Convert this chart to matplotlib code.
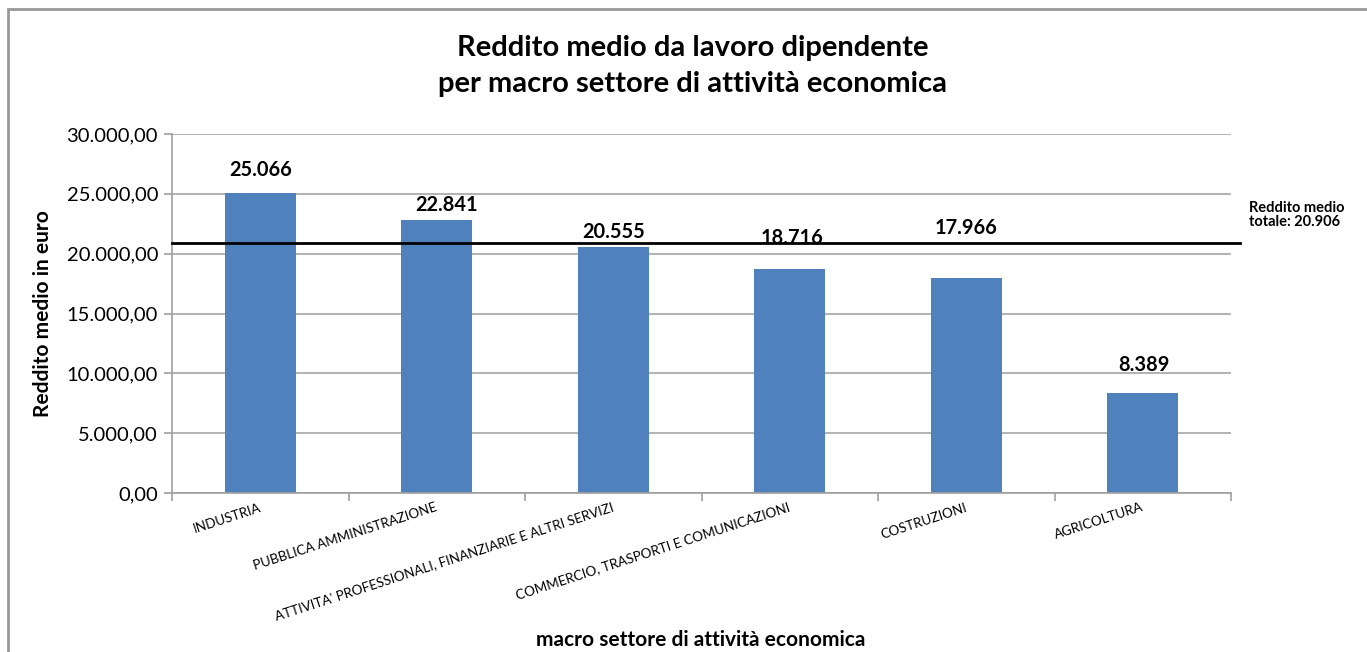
import matplotlib
matplotlib.use("Agg")
import matplotlib.pyplot as plt
from matplotlib.patches import Rectangle
from matplotlib.ticker import FuncFormatter

plt.rcParams['font.family'] = ['Lato', 'DejaVu Sans']

# Average income from employment by macro sector
sectors = [
    "INDUSTRIA",
    "PUBBLICA AMMINISTRAZIONE",
    "ATTIVITA' PROFESSIONALI, FINANZIARIE E ALTRI SERVIZI",
    "COMMERCIO, TRASPORTI E COMUNICAZIONI",
    "COSTRUZIONI",
    "AGRICOLTURA",
]
income = [25066, 22841, 20555, 18716, 17966, 8389]
overall_mean = 20906
y_ticks = [0, 5000, 10000, 15000, 20000, 25000, 30000]

# hand-placed label offsets (pixels) relative to each bar top
label_dx = [0, 10, 0, 2, 0, 1]
label_dy = [23, 15, 15, 31, 50, 28]

W, H = 1367, 652
fig = plt.figure(figsize=(W / 100, H / 100), dpi=100)
fig.patch.set_facecolor('white')

# outer chart frame
fig.add_artist(Rectangle((8 / W, -0.1), 1.2, (H - 9) / H + 0.1, transform=fig.transFigure,
                         fill=False, edgecolor='#999999', linewidth=2))

left, right, top, bottom = 172, 1231, 134, 493
ax = fig.add_axes([left / W, 1 - bottom / H, (right - left) / W, (bottom - top) / H])

def it_num(v, _pos=None):
    s = f"{v:,.2f}"
    return s.replace(",", "X").replace(".", ",").replace("X", ".")

x = range(len(sectors))
ax.bar(x, income, width=0.4, color='#4F81BD', zorder=2)
ax.set_xlim(-0.5, len(sectors) - 0.5)
ax.set_ylim(0, 30000)
ax.set_yticks(y_ticks)
ax.yaxis.set_major_formatter(FuncFormatter(it_num))
ax.grid(axis='y', color='#a6a6a6', linewidth=1.2, zorder=0)
ax.set_axisbelow(True)

for s in ['top', 'right']:
    ax.spines[s].set_visible(False)
for s in ['left', 'bottom']:
    ax.spines[s].set_color('#a0a0a0')
    ax.spines[s].set_linewidth(1.2)

ax.tick_params(axis='y', colors='#a0a0a0', labelcolor='black', labelsize=14.5,
               length=6, width=1.2, pad=4)
ax.set_xticks([i + 0.5 for i in range(-1, len(sectors))], minor=False)
ax.set_xticklabels([])
ax.tick_params(axis='x', which='major', colors='#a0a0a0', length=6, width=1.2)

# rotated category labels, right end anchored at the category centre
for i, name in enumerate(sectors):
    ax.annotate(name, xy=(i, 0), xycoords=('data', 'axes fraction'),
                xytext=(0, -14), textcoords='offset pixels',
                rotation=18, rotation_mode='anchor', ha='right', va='center',
                fontsize=9.6, color='black')

# value labels
for i, v in enumerate(income):
    lbl = f"{v:,}".replace(",", ".")
    ax.annotate(lbl, xy=(i, v), xytext=(label_dx[i], label_dy[i]),
                textcoords='offset pixels', ha='center', va='center',
                fontsize=14.4, fontweight='bold')

# overall mean line
xr = len(sectors) - 0.5 + 9 / ((right - left) / len(sectors))
ax.plot([-0.5, xr], [overall_mean, overall_mean], color='black', linewidth=2,
        clip_on=False, zorder=3)
fig.text(1249 / W, 1 - 215 / H, "Reddito medio\ntotale: " + f"{overall_mean:,}".replace(",", "."),
         ha='left', va='center', fontsize=10.5, fontweight='bold', linespacing=1.0)

ax.set_ylabel("Reddito medio in euro", fontsize=15, fontweight='bold', labelpad=10)
fig.text(701 / W, 1 - 640 / H, "macro settore di attività economica",
         ha='center', va='center', fontsize=15, fontweight='bold')
fig.text(693 / W, 1 - 66 / H,
         "Reddito medio da lavoro dipendente\nper macro settore di attività economica",
         ha='center', va='center', fontsize=21, fontweight='bold', linespacing=1.45)

fig.savefig("out.png", dpi=100)
